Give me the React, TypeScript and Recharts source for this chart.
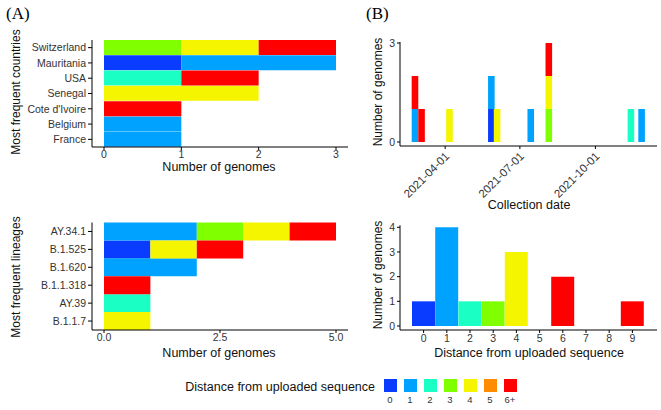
import { BarChart, Bar, XAxis, YAxis, Cell, Rectangle } from 'recharts';

// distance classes 0..6+
const DIST_COLORS = ['#0a3cff', '#00a2ff', '#1affc4', '#80ff00', '#f5f500', '#ff8c00', '#ff0000'];
const DIST_LABELS = ['0', '1', '2', '3', '4', '5', '6+'];

const COUNTRIES = ['Switzerland', 'Mauritania', 'USA', 'Senegal', "Cote d'Ivoire", 'Belgium', 'France'];
const COUNTRY_COUNTS = [
  [0, 0, 0, 1, 1, 0, 1],
  [1, 2, 0, 0, 0, 0, 0],
  [0, 0, 1, 0, 0, 0, 1],
  [0, 0, 0, 0, 2, 0, 0],
  [0, 0, 0, 0, 0, 0, 1],
  [0, 1, 0, 0, 0, 0, 0],
  [0, 1, 0, 0, 0, 0, 0],
];

const LINEAGES = ['AY.34.1', 'B.1.525', 'B.1.620', 'B.1.1.318', 'AY.39', 'B.1.1.7'];
const LINEAGE_COUNTS = [
  [0, 2, 0, 1, 1, 0, 1],
  [1, 0, 0, 0, 1, 0, 1],
  [0, 2, 0, 0, 0, 0, 0],
  [0, 0, 0, 0, 0, 0, 1],
  [0, 0, 1, 0, 0, 0, 0],
  [0, 0, 0, 0, 1, 0, 0],
];

const DATES = ['2021-02-23', '2021-03-03', '2021-04-06', '2021-05-27', '2021-06-03', '2021-07-14', '2021-08-05', '2021-11-13', '2021-11-26'];
const DATE_COUNTS = [
  [0, 1, 0, 0, 0, 0, 1],
  [0, 0, 0, 0, 0, 0, 1],
  [0, 0, 0, 0, 1, 0, 0],
  [1, 1, 0, 0, 0, 0, 0],
  [0, 0, 0, 0, 1, 0, 0],
  [0, 1, 0, 0, 0, 0, 0],
  [0, 0, 0, 1, 1, 0, 1],
  [0, 0, 1, 0, 0, 0, 0],
  [0, 1, 0, 0, 0, 0, 0],
];
const DATE_TICKS = ['2021-04-01', '2021-07-01', '2021-10-01'];
const DATE_RANGE = ['2021-02-05', '2021-12-15'];

const DISTANCES = ['0', '1', '2', '3', '4', '5', '6', '7', '8', '9'];
const DISTANCE_COUNTS = [1, 4, 1, 1, 3, 0, 2, 0, 0, 1];

const day = (s: string) => (Date.parse(s) - Date.parse('2021-01-01')) / 86400000;
const dayLabel = (d: number) => new Date(Date.parse('2021-01-01') + d * 86400000).toISOString().slice(0, 10);

const toRows = (labels: string[], counts: number[][], key: string, conv?: (s: string) => any) =>
  labels.map((l, i) => {
    const r: any = { [key]: conv ? conv(l) : l };
    counts[i].forEach((v, j) => { r['d' + j] = v || null; });
    return r;
  });

const countryRows = toRows(COUNTRIES, COUNTRY_COUNTS, 'name');
const lineageRows = toRows(LINEAGES, LINEAGE_COUNTS, 'name');
const dateRows = toRows(DATES, DATE_COUNTS, 'day', day);
const distRows = DISTANCES.map((d, i) => ({ name: d, n: DISTANCE_COUNTS[i] }));

const INK = '#000';
const TICK = { fontSize: 10.5, fill: '#333' };

const Title = ({ x, y, text, rotate, size = 12.5 }: any) => (
  <div
    style={{
      position: 'absolute', left: x, top: y, whiteSpace: 'nowrap', fontSize: size, lineHeight: 1, color: '#111',
      transform: `translate(-50%, -50%)${rotate ? ' rotate(-90deg)' : ''}`,
    }}
  >
    {text}
  </div>
);

const DateTick = ({ x, y, payload }: any) => (
  <g transform={`translate(${x + 2},${y + 5})`}>
    <text x={0} y={0} dy="0.35em" textAnchor="end" transform="rotate(-45)" fontSize={11.5} fill="#333">
      {dayLabel(payload.value)}
    </text>
  </g>
);

const NarrowBar = (p: any) =>
  p.height ? <Rectangle x={p.x + p.width / 2 - 3.3} y={p.y} width={6.6} height={p.height} fill={p.fill} /> : null;

const stackBars = (shape?: any) =>
  DIST_COLORS.map((c, j) => (
    <Bar key={j} dataKey={'d' + j} stackId="a" fill={c} isAnimationActive={false} shape={shape} />
  ));

const SERIF = '"Liberation Serif", "DejaVu Serif", serif';

export default function App() {
  return (
    <div style={{ position: 'absolute', left: 0, top: 0, width: 661, height: 410, background: '#fff', overflow: 'hidden', fontFamily: '"Liberation Sans", Arial, sans-serif' }}>
      <div style={{ position: 'absolute', left: 6, top: 4, fontFamily: SERIF, fontSize: 17 }}>(A)</div>
      <div style={{ position: 'absolute', left: 366, top: 4, fontFamily: SERIF, fontSize: 17 }}>(B)</div>

      {/* countries */}
      <div style={{ position: 'absolute', left: 0, top: 0 }}>
        <BarChart width={355} height={180} data={countryRows} layout="vertical" barCategoryGap={0} barGap={0}
          margin={{ top: 40, right: 7, bottom: 3, left: 0 }}>
          <XAxis type="number" domain={[0, 3]} ticks={[0, 1, 2, 3]} padding={{ left: 12, right: 12 }} height={30}
            axisLine={{ stroke: INK }} tickLine={{ stroke: INK }} tickSize={3} tickMargin={1} tick={TICK} />
          <YAxis type="category" dataKey="name" width={92} axisLine={{ stroke: INK }} tickLine={{ stroke: INK }}
            tickSize={4} tickMargin={2} tick={TICK} interval={0} />
          {stackBars()}
        </BarChart>
      </div>
      <Title x={16} y={92} text="Most frequent countries" rotate size={12} />
      <Title x={219} y={167} text="Number of genomes" />

      {/* lineages */}
      <div style={{ position: 'absolute', left: 0, top: 200 }}>
        <BarChart width={355} height={160} data={lineageRows} layout="vertical" barCategoryGap={0} barGap={0}
          margin={{ top: 22.5, right: 7, bottom: 0, left: 0 }}>
          <XAxis type="number" domain={[0, 5]} ticks={[0, 2.5, 5]} tickFormatter={(v: number) => v.toFixed(1)}
            padding={{ left: 12, right: 12 }} height={30}
            axisLine={{ stroke: INK }} tickLine={{ stroke: INK }} tickSize={3} tickMargin={1} tick={TICK} />
          <YAxis type="category" dataKey="name" width={92} axisLine={{ stroke: INK }} tickLine={{ stroke: INK }}
            tickSize={4} tickMargin={2} tick={TICK} interval={0} />
          {stackBars()}
        </BarChart>
      </div>
      <Title x={16} y={277} text="Most frequent lineages" rotate size={12} />
      <Title x={219} y={353} text="Number of genomes" />

      {/* collection date */}
      <div style={{ position: 'absolute', left: 360, top: 0 }}>
        <BarChart width={301} height={200} data={dateRows} margin={{ top: 42, right: 4, bottom: 0, left: 0 }}>
          <XAxis type="number" dataKey="day" domain={[day(DATE_RANGE[0]), day(DATE_RANGE[1])]} ticks={DATE_TICKS.map(day)}
            height={54} axisLine={{ stroke: INK }} tickLine={{ stroke: INK }} tickSize={3} tickMargin={0} tick={<DateTick />} />
          <YAxis type="number" domain={[0, 3]} ticks={[0, 3]} width={40} padding={{ top: 1, bottom: 4 }}
            axisLine={{ stroke: INK }} tickLine={{ stroke: INK }} tickSize={3} tickMargin={2} tick={TICK} />
          {stackBars(NarrowBar)}
        </BarChart>
      </div>
      <Title x={378} y={92} text="Number of genomes" rotate size={12} />
      <Title x={529} y={205} text="Collection date" />

      {/* distance histogram */}
      <div style={{ position: 'absolute', left: 360, top: 200 }}>
        <BarChart width={301} height={160} data={distRows} barCategoryGap={0} barGap={0}
          margin={{ top: 25.3, right: 4, bottom: 0, left: 0 }}>
          <XAxis dataKey="name" padding={{ left: 12, right: 13 }} height={30} interval={0}
            axisLine={{ stroke: INK }} tickLine={{ stroke: INK }} tickSize={3} tickMargin={2} tick={TICK} />
          <YAxis type="number" domain={[0, 4]} ticks={[0, 1, 2, 3, 4]} width={40} padding={{ top: 2, bottom: 4 }}
            axisLine={{ stroke: INK }} tickLine={{ stroke: INK }} tickSize={3} tickMargin={2} tick={TICK} />
          <Bar dataKey="n" isAnimationActive={false}>
            {distRows.map((r, i) => (
              <Cell key={r.name} fill={DIST_COLORS[Math.min(i, 6)]} />
            ))}
          </Bar>
        </BarChart>
      </div>
      <Title x={378} y={275} text="Number of genomes" rotate size={12} />
      <Title x={529} y={353} text="Distance from uploaded sequence" />

      {/* legend */}
      <div style={{ position: 'absolute', right: 661 - 375, top: 387, transform: 'translateY(-50%)', fontSize: 12.5, lineHeight: 1, whiteSpace: 'nowrap', color: '#111' }}>
        Distance from uploaded sequence
      </div>
      {DIST_COLORS.map((c, i) => (
        <div key={i}>
          <div style={{ position: 'absolute', left: 383.5 + 20 * i, top: 379, width: 13, height: 13, background: c }} />
          <div style={{ position: 'absolute', left: 390 + 20 * i, top: 400, transform: 'translate(-50%, -50%)', fontSize: 9.5, lineHeight: 1, color: '#333' }}>
            {DIST_LABELS[i]}
          </div>
        </div>
      ))}
    </div>
  );
}
